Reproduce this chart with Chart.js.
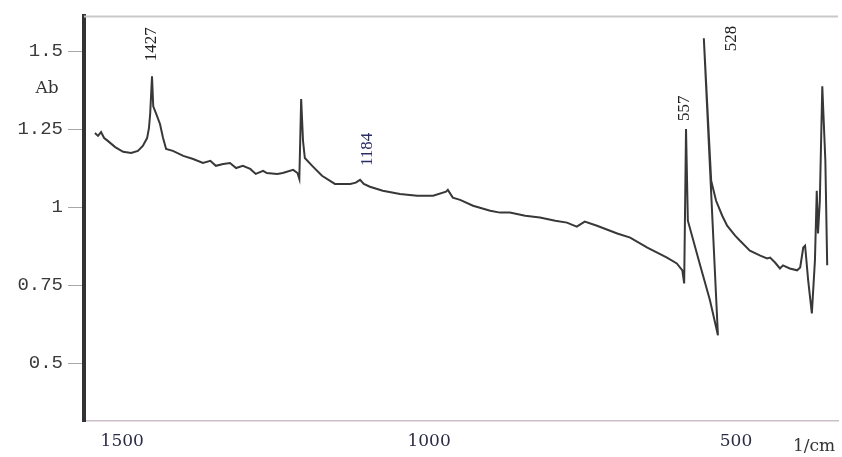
<!DOCTYPE html>
<html>
<head>
<meta charset="utf-8">
<title>IR spectrum</title>
<script src="https://cdn.jsdelivr.net/npm/chart.js@4.4.1/dist/chart.umd.min.js"></script>
<style>
  html, body { margin: 0; padding: 0; background: #fff; }
</style>
</head>
<body>
<canvas id="spectrum" width="842" height="457"></canvas>
<script>
// Absorbance trace, wavenumber in 1/cm (high to low, as scanned)
const wavenumber = [
  1520, 1515, 1510, 1505, 1499, 1487, 1474, 1461, 1450, 1442, 1435, 1432, 1430, 1427, 1425, 1420,
  1414, 1409, 1404, 1393, 1376, 1360, 1344, 1332, 1323, 1311, 1300, 1290, 1279, 1267, 1258, 1246,
  1240, 1223, 1214, 1197, 1190, 1187, 1184, 1181, 1178, 1166, 1150, 1129, 1104, 1095, 1088, 1082,
  1072, 1051, 1023, 995, 969, 948, 945, 937, 925, 904, 876, 860, 844, 819, 795, 770,
  751, 735, 722, 702, 669, 648, 620, 588, 572, 563, 560, 557, 554, 534, 518, 505,
  528, 516, 508, 498, 490, 477, 469, 453, 436, 425, 420, 412, 404, 399, 388, 376,
  371, 366, 363, 358, 352, 347, 344, 342, 339, 335, 330, 327
];
const absorbance = [
  1.238, 1.229, 1.241, 1.222, 1.213, 1.193, 1.178, 1.174, 1.181, 1.197, 1.222, 1.254, 1.299, 1.420, 1.324, 1.299,
  1.267, 1.222, 1.187, 1.181, 1.165, 1.155, 1.142, 1.149, 1.133, 1.139, 1.142, 1.126, 1.133, 1.123, 1.107, 1.117,
  1.110, 1.107, 1.110, 1.120, 1.110, 1.091, 1.347, 1.213, 1.158, 1.133, 1.101, 1.075, 1.075, 1.079, 1.088, 1.075,
  1.066, 1.053, 1.043, 1.037, 1.037, 1.050, 1.056, 1.031, 1.024, 1.005, 0.989, 0.983, 0.983, 0.973, 0.967, 0.957,
  0.951, 0.938, 0.954, 0.941, 0.916, 0.903, 0.871, 0.839, 0.820, 0.798, 0.756, 1.251, 0.957, 0.814, 0.702, 0.590,
  1.542, 1.085, 1.021, 0.973, 0.941, 0.909, 0.893, 0.861, 0.845, 0.836, 0.839, 0.823, 0.804, 0.814, 0.804, 0.798,
  0.807, 0.871, 0.877, 0.766, 0.660, 0.829, 1.053, 0.916, 1.021, 1.388, 1.149, 0.814
];
const peakMarks = [1427, 1184, 557, 528];
const xTicks = [1500, 1000, 500];
const yTicks = [0.5, 0.75, 1, 1.25, 1.5];
const xRange = [309.4, 1537.8];
const yRange = [0.315, 1.612];

// where each peak number sits relative to the peak tip (px)
const labelPlace = { 1427: [0, -15], 1184: [66, 67], 557: [-1, -8], 528: [28, 13] };

const spectrumDecor = {
  id: 'spectrumDecor',
  afterDraw(chart) {
    const { ctx, chartArea, scales: { x, y } } = chart;
    ctx.save();

    // thin frame line along the top
    ctx.strokeStyle = '#c9c9c9';
    ctx.lineWidth = 2;
    ctx.beginPath();
    ctx.moveTo(chartArea.left, chartArea.top);
    ctx.lineTo(chartArea.right, chartArea.top);
    ctx.stroke();

    // vertical peak numbers
    ctx.font = '17px "Liberation Serif"';
    ctx.textAlign = 'left';
    ctx.textBaseline = 'middle';
    peakMarks.forEach(v => {
      const i = wavenumber.indexOf(v);
      const [dx, dy] = labelPlace[v];
      const px = x.getPixelForValue(v) + dx;
      const py = y.getPixelForValue(absorbance[i]) + dy;
      ctx.save();
      ctx.translate(px, py);
      ctx.rotate(-Math.PI / 2);
      ctx.fillStyle = v === 1184 ? '#2e2e66' : '#222';
      ctx.fillText(String(v), 0, 0);
      ctx.restore();
    });

    // axis units
    ctx.fillStyle = '#333';
    ctx.textAlign = 'center';
    ctx.font = '17px "DejaVu Serif"';
    ctx.fillText('Ab', 47, 89);
    ctx.fillText('1/cm', 814, 447);
    ctx.restore();
  }
};

new Chart(document.getElementById('spectrum'), {
  type: 'line',
  data: {
    datasets: [{
      data: wavenumber.map((w, i) => ({ x: w, y: absorbance[i] })),
      borderColor: '#383838',
      borderWidth: 2,
      pointRadius: 0,
      tension: 0,
      fill: false
    }]
  },
  options: {
    responsive: false,
    animation: false,
    layout: { padding: { top: 15, right: 4, left: 0, bottom: 0 } },
    plugins: { legend: { display: false }, tooltip: { enabled: false } },
    scales: {
      x: {
        type: 'linear',
        reverse: true,
        min: xRange[0],
        max: xRange[1],
        afterBuildTicks: s => { s.ticks = xTicks.map(v => ({ value: v })); },
        afterFit: s => { s.height = 36; },
        border: { color: '#cbbfca', width: 1.5 },
        grid: { display: false, drawTicks: false },
        ticks: {
          font: { family: 'DejaVu Serif', size: 17 },
          color: '#2c2c48',
          padding: 10,
          labelOffset: 15,
          maxRotation: 0,
          autoSkip: false,
          callback: v => String(v)
        }
      },
      y: {
        min: yRange[0],
        max: yRange[1],
        afterBuildTicks: s => { s.ticks = yTicks.map(v => ({ value: v })); },
        afterFit: s => { s.width = 84; },
        border: { color: '#333', width: 4 },
        grid: { drawOnChartArea: false, tickLength: 16, color: '#a8a8a8', lineWidth: 1 },
        ticks: {
          font: { family: 'Liberation Mono', size: 19 },
          color: '#3a3a3a',
          padding: 5,
          callback: v => String(v)
        }
      }
    }
  },
  plugins: [spectrumDecor]
});
</script>
</body>
</html>
